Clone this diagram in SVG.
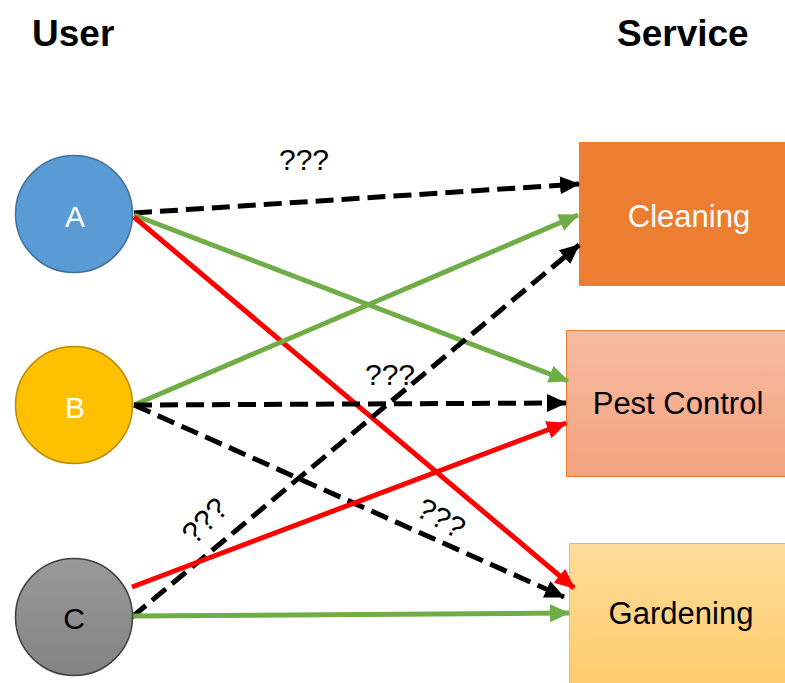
<svg xmlns="http://www.w3.org/2000/svg" width="785" height="683" viewBox="0 0 785 683">
  <defs>
    <linearGradient id="gradPest" x1="0" y1="0" x2="0" y2="1">
      <stop offset="0" stop-color="#F6BCA3"/>
      <stop offset="1" stop-color="#F3A27E"/>
    </linearGradient>
    <linearGradient id="gradGarden" x1="0" y1="0" x2="0" y2="1">
      <stop offset="0" stop-color="#FEDC9A"/>
      <stop offset="1" stop-color="#FDCB6A"/>
    </linearGradient>
    <linearGradient id="gradGrey" x1="0" y1="0" x2="0" y2="1">
      <stop offset="0" stop-color="#999999"/>
      <stop offset="1" stop-color="#838383"/>
    </linearGradient>
    <marker id="arrBlack" viewBox="0 0 20 20" refX="19" refY="10" markerWidth="20" markerHeight="20" markerUnits="userSpaceOnUse" orient="auto">
      <path d="M0,1 L20,10 L0,19 Z" fill="#000"/>
    </marker>
    <marker id="arrGreen" viewBox="0 0 20 20" refX="19" refY="10" markerWidth="20" markerHeight="20" markerUnits="userSpaceOnUse" orient="auto">
      <path d="M0,1 L20,10 L0,19 Z" fill="#70AD47"/>
    </marker>
    <marker id="arrRed" viewBox="0 0 20 20" refX="19" refY="10" markerWidth="20" markerHeight="20" markerUnits="userSpaceOnUse" orient="auto">
      <path d="M0,1 L20,10 L0,19 Z" fill="#FF0000"/>
    </marker>
  </defs>
  <style>
    .title { font-family: "Liberation Sans", Arial, sans-serif; font-weight: bold; font-size: 37px; fill: #000; }
    .nodeLabel { font-family: "Liberation Sans", Arial, sans-serif; font-size: 31px; text-anchor: middle; }
    .letter { font-family: "Liberation Sans", Arial, sans-serif; font-size: 30px; text-anchor: middle; }
    .q { font-family: "Liberation Sans", Arial, sans-serif; font-size: 30px; fill: #000; text-anchor: middle; }
    .edge { fill: none; stroke-width: 5; }
    .dash { stroke: #000; stroke-dasharray: 18 8; marker-end: url(#arrBlack); }
    .green { stroke: #70AD47; marker-end: url(#arrGreen); }
    .red { stroke: #FF0000; marker-end: url(#arrRed); }
  </style>

  <rect width="785" height="683" fill="#fff"/>

  <!-- column headings -->
  <text class="title" x="32" y="46">User</text>
  <text class="title" x="617" y="46">Service</text>

  <!-- services -->
  <g id="cleaning">
    <rect x="579" y="142" width="206" height="144" fill="#ED7D31"/>
    <text class="nodeLabel" x="689" y="227" fill="#fff">Cleaning</text>
  </g>
  <g id="pest-control">
    <rect x="566.5" y="330.5" width="220" height="146" fill="url(#gradPest)" stroke="#ED7D31" stroke-width="1"/>
    <text class="nodeLabel" x="678" y="414" fill="#000">Pest Control</text>
  </g>
  <g id="gardening">
    <rect x="569.5" y="543.5" width="220" height="150" fill="url(#gradGarden)" stroke="#FFC000" stroke-width="1"/>
    <text class="nodeLabel" x="681" y="624" fill="#000">Gardening</text>
  </g>

  <!-- connectors -->
  <g id="connectors">
    <line class="edge dash" x1="134" y1="213" x2="579" y2="184"/>
    <line class="edge green" x1="134" y1="215" x2="568" y2="381"/>
    <line class="edge red" x1="134" y1="217" x2="574" y2="588"/>
    <line class="edge green" x1="134" y1="405" x2="578" y2="215"/>
    <line class="edge dash" x1="134" y1="405" x2="566" y2="403"/>
    <line class="edge dash" x1="134" y1="405" x2="564" y2="597"/>
    <line class="edge dash" x1="132" y1="617" x2="579" y2="245"/>
    <line class="edge red" x1="132" y1="587" x2="566" y2="423"/>
    <line class="edge green" x1="133" y1="616" x2="569" y2="613"/>
  </g>

  <!-- users -->
  <g id="user-a">
    <circle cx="74" cy="214" r="58.5" fill="#5B9BD5" stroke="#41719C" stroke-width="1.5"/>
    <text class="letter" x="75" y="227" fill="#fff">A</text>
  </g>
  <g id="user-b">
    <circle cx="74" cy="405" r="58.5" fill="#FFC000" stroke="#BC8C00" stroke-width="1.5"/>
    <text class="letter" x="75" y="418" fill="#fff">B</text>
  </g>
  <g id="user-c">
    <circle cx="74" cy="617" r="58.5" fill="url(#gradGrey)" stroke="#404040" stroke-width="1.5"/>
    <text class="letter" x="74" y="629" fill="#000">C</text>
  </g>

  <!-- unknown-link labels -->
  <g id="labels">
    <text class="q" x="304" y="170">???</text>
    <text class="q" x="390" y="385">???</text>
    <text class="q" transform="translate(212,528) rotate(-45)">???</text>
    <text class="q" transform="translate(436,527) rotate(30)">???</text>
  </g>
</svg>
